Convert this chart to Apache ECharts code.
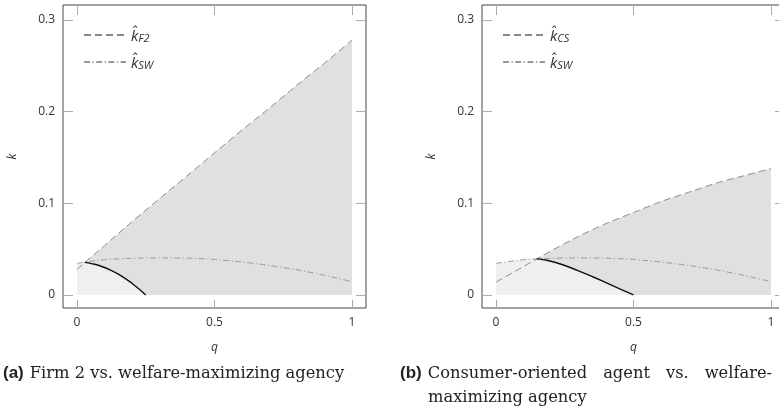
<!DOCTYPE html>
<html><head><meta charset="utf-8">
<script src="https://cdn.jsdelivr.net/npm/echarts@6/dist/echarts.min.js"></script>
<style>html,body{margin:0;padding:0;background:#fff}#c{width:779px;height:411px}</style>
</head><body><div id="c"></div><script>
// ---- data ----
const qGrid = [0, 0.1, 0.2, 0.3, 0.4, 0.5, 0.6, 0.7, 0.8, 0.9, 1];
const kF2   = [0.028, 0.054, 0.080, 0.105, 0.130, 0.155, 0.180, 0.204, 0.229, 0.253, 0.278];
const kCS   = [0.014, 0.031, 0.048, 0.064, 0.078, 0.090, 0.102, 0.112, 0.122, 0.130, 0.138];
const kSW   = [0.0345, 0.0385, 0.0400, 0.0405, 0.0402, 0.0388, 0.0360, 0.0322, 0.0275, 0.0215, 0.0145];
const boundaryA = [[0.028,0.0356],[0.06,0.0338],[0.09,0.0311],[0.12,0.0274],[0.15,0.0227],[0.18,0.0170],[0.21,0.0104],[0.23,0.0054],[0.25,0]];
const boundaryB = [[0.148,0.0394],[0.18,0.0382],[0.22,0.0352],[0.26,0.0311],[0.30,0.0264],[0.34,0.0214],[0.38,0.0162],[0.42,0.0108],[0.46,0.0054],[0.50,0]];
const xTicks = [0, 0.5, 1];
const yTicks = [0, 0.1, 0.2, 0.3];
const xLabels = ['0', '0.5', '1'];
const yLabels = ['0', '0.1', '0.2', '0.3'];
const captionA = ['(a)', 'Firm 2 vs. welfare-maximizing agency'];
const captionB = ['(b)', 'Consumer-oriented agent vs. welfare-', 'maximizing agency'];

const pairs = (ys) => qGrid.map((q, i) => [q, ys[i]]);
const darkArea = (upper, b) => [b[0]].concat(pairs(upper).filter(p => p[0] > b[0][0]));
const lightArea = (b) => pairs(kSW).filter(p => p[0] < b[0][0]).concat(b);

const SANS = '"Open Sans", "DejaVu Sans", sans-serif';
const SERIF = '"DejaVu Serif", serif';
const gridBase = {top: 5, width: 303, height: 303, show: true, borderColor: '#444', borderWidth: 1,
  backgroundColor: 'transparent', containLabel: false, outerBoundsMode: 'none'};
const grids = [Object.assign({left: 63}, gridBase), Object.assign({left: 482}, gridBase)];
const XMIN = -0.0509, XMAX = 1.0509, YMIN = -0.0142, YMAX = 0.3164;
const tick = (vals, len) => ({show: true, inside: true, length: len, customValues: vals, lineStyle: {color: '#aaa', width: 1}});
const noLine = {show: false, onZero: false};
const xAxes = [], yAxes = [];
[0, 1].forEach(g => {
  xAxes.push({type: 'value', gridIndex: g, position: 'bottom', min: XMIN, max: XMAX,
    axisLine: noLine, splitLine: {show: false}, axisTick: tick(xTicks, 8),
    axisLabel: {customValues: xTicks, formatter: v => xLabels[xTicks.indexOf(v)], color: '#333', fontSize: 12, fontFamily: SANS, margin: 9},
    name: 'q', nameLocation: 'middle', nameGap: 34, nameTextStyle: {fontStyle: 'italic', fontSize: 12, color: '#333', fontFamily: SANS}});
  xAxes.push({type: 'value', gridIndex: g, position: 'top', min: XMIN, max: XMAX,
    axisLine: noLine, splitLine: {show: false}, axisTick: tick(xTicks, 10), axisLabel: {show: false}});
  yAxes.push({type: 'value', gridIndex: g, position: 'left', min: YMIN, max: YMAX,
    axisLine: noLine, splitLine: {show: false}, axisTick: tick(yTicks, 10),
    axisLabel: {customValues: yTicks, formatter: v => yLabels[yTicks.indexOf(v)], color: '#333', fontSize: 12, fontFamily: SANS, margin: 8},
    name: 'k', nameLocation: 'middle', nameGap: 44, nameRotate: 90, nameTextStyle: {fontStyle: 'italic', fontSize: 12, color: '#333', fontFamily: SANS}});
  yAxes.push({type: 'value', gridIndex: g, position: 'right', min: YMIN, max: YMAX,
    axisLine: noLine, splitLine: {show: false}, axisTick: tick(yTicks, 10), axisLabel: {show: false}});
});

const DASH = [7, 4], DASHDOT = [6, 2.5, 1.2, 2.5];
function panel(g, upper, upperName, b) {
  const xi = g * 2, yi = g * 2;
  return [
    {name: 'dark' + g, type: 'line', xAxisIndex: xi, yAxisIndex: yi, data: darkArea(upper, b), symbol: 'none', smooth: 0.2,
      lineStyle: {width: 0, opacity: 0}, areaStyle: {color: '#dfe0e2', opacity: 1}, silent: true, z: 1},
    {name: 'light' + g, type: 'line', xAxisIndex: xi, yAxisIndex: yi, data: lightArea(b), symbol: 'none', smooth: 0.2,
      lineStyle: {width: 0, opacity: 0}, areaStyle: {color: '#efefef', opacity: 1}, silent: true, z: 2},
    {name: upperName, type: 'line', xAxisIndex: xi, yAxisIndex: yi, data: pairs(upper), symbol: 'none', smooth: 0.2,
      lineStyle: {color: '#8a8a8a', width: 1, type: DASH}, itemStyle: {color: '#8a8a8a'}, z: 5},
    {name: 'kSW', type: 'line', xAxisIndex: xi, yAxisIndex: yi, data: pairs(kSW), symbol: 'none', smooth: 0.2,
      lineStyle: {color: '#9a9a9a', width: 1, type: DASHDOT}, itemStyle: {color: '#9a9a9a'}, z: 5},
    {name: 'boundary' + g, type: 'line', xAxisIndex: xi, yAxisIndex: yi, data: b, symbol: 'none', smooth: 0.2,
      lineStyle: {color: '#111', width: 1.4}, z: 6}
  ];
}
const subs = {kF2: 'F2', kCS: 'CS', kSW: 'SW'};
const legendRich = {
  k: {fontSize: 15, fontStyle: 'italic', fontFamily: SANS, color: '#333', verticalAlign: 'bottom', lineHeight: 18},
  s: {fontSize: 11, fontStyle: 'italic', fontFamily: SANS, color: '#333', verticalAlign: 'bottom', lineHeight: 12}
};
const legend = (left, items) => ({orient: 'vertical', left: left, top: 24, data: items, itemWidth: 42, itemHeight: 14, itemGap: 12,
  selectedMode: false, itemStyle: {opacity: 0, borderWidth: 0},
  formatter: n => '{k|k\u0302}{s|' + subs[n] + '}', textStyle: {rich: legendRich}});

const capRich = {
  b: {fontFamily: '"Liberation Sans", Arial, sans-serif', fontWeight: 'bold', fontSize: 17, fill: '#222'},
  r: {fontFamily: SERIF, fontSize: 16.3, fill: '#222'},
  sp: {fontFamily: SERIF, fontSize: 16, width: 6},
  wsp: {fontFamily: SERIF, fontSize: 16, width: 16}
};
// caption (b) first line is justified in the original: widen its inter-word gaps
const justified = (s) => s.split(' ').map(w => '{r|' + w + '}').join('{wsp| }');
const option = {
  animation: false,
  grid: grids, xAxis: xAxes, yAxis: yAxes,
  legend: [legend(78, ['kF2', 'kSW']), legend(497, ['kCS', 'kSW'])],
  series: panel(0, kF2, 'kF2', boundaryA).concat(panel(1, kCS, 'kCS', boundaryB)),
  graphic: [
    {type: 'text', left: 3, top: 365, style: {text: '{b|' + captionA[0] + '}{sp| }{r|' + captionA[1] + '}', rich: capRich}},
    {type: 'text', left: 400, top: 365, style: {text: '{b|' + captionB[0] + '}{sp| }' + justified(captionB[1]), rich: capRich}},
    {type: 'text', left: 428, top: 390, style: {text: captionB[2], fontFamily: SERIF, fontSize: 16.3, fill: '#222'}}
  ]
};
echarts.init(document.getElementById('c')).setOption(option);
</script></body></html>
